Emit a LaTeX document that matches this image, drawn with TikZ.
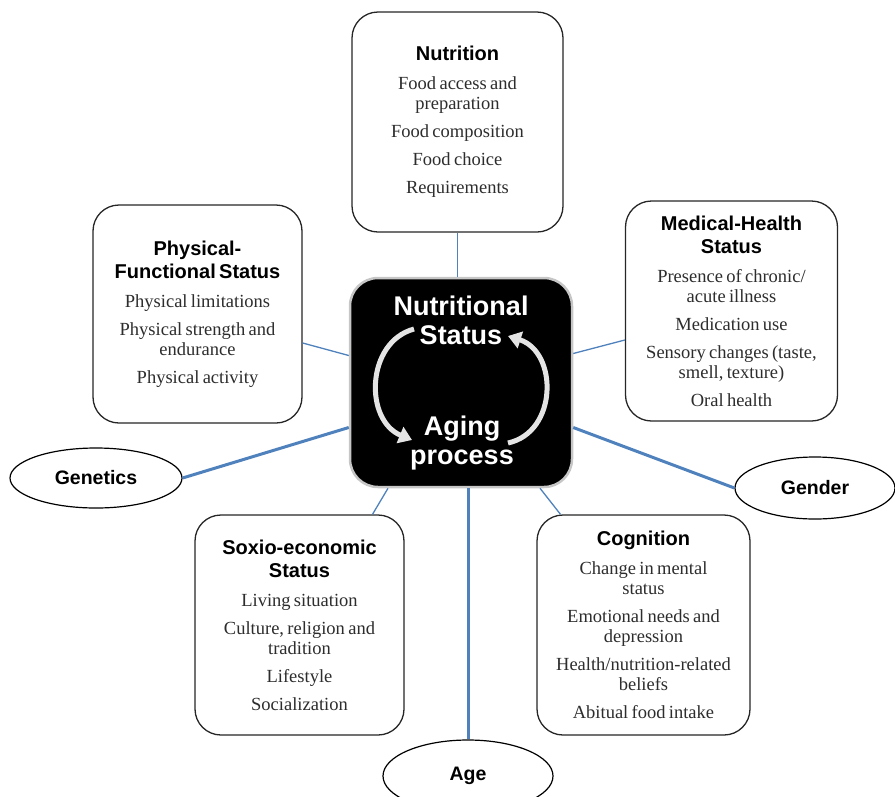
\documentclass[tikz,border=0pt]{standalone}
\usepackage{fontspec}
\setmainfont{Liberation Serif}
\newfontfamily\headfont{Liberation Sans}
\usetikzlibrary{arrows.meta,shapes.geometric}
\definecolor{linkblue}{RGB}{79,129,189}
\definecolor{bodytext}{RGB}{45,45,45}
\definecolor{cyclegray}{RGB}{228,228,228}
\newcommand\hdtxt{\headfont\bfseries\fontsize{20}{23}\selectfont\color{black}}
\newcommand\bdtxt{\rmfamily\mdseries\fontsize{18.5}{20}\selectfont\color{bodytext}}
\newcommand\itemgap{\\[8pt]}

\begin{document}
\begin{tikzpicture}[
  x=1pt, y=-1pt,
  catbox/.style={draw=black!85, line width=1.3pt, rounded corners=26pt, fill=white,
                 align=center, inner xsep=7pt, inner ysep=0pt},
  core/.style={draw=gray!45, line width=2.5pt, fill=black, rounded corners=28pt,
               minimum width=222pt, minimum height=209pt},
  coretxt/.style={text=white, align=center,
                  font=\headfont\bfseries\fontsize{27}{29}\selectfont},
  factor/.style={ellipse, draw=black, line width=1.2pt, fill=white, inner sep=0pt,
                 font=\headfont\bfseries\fontsize{19.5}{22}\selectfont},
  link/.style={draw=linkblue, line width=1.3pt},
  biglink/.style={draw=linkblue, line width=3pt},
  cycle/.style={draw=cyclegray, line width=5pt, -{Triangle[width=17pt,length=13pt]}},
]
\useasboundingbox (0,0) rectangle (895,796);
\clip (0,0) rectangle (895,796);

% central box
\node[core] (core) at (461,382.5) {};
\node[coretxt] (nstat) at (461,320) {Nutritional\\Status};
\node[coretxt] (aging) at (462,443) {Aging\\process};
\coordinate (la1) at (414,329);
\coordinate (la2) at (412,440);
\coordinate (ra1) at (508,443);
\coordinate (ra2) at (508,336);
\draw[cycle] (la1) .. controls (366,342) and (364,420) .. (la2);
\draw[cycle] (ra1) .. controls (558,432) and (558,352) .. (ra2);

% surrounding factors
\node[catbox, minimum width=211pt, minimum height=220pt, text width=197pt] (nut) at (457.5,122)
  {{\hdtxt Nutrition\par}\vspace{9pt}\bdtxt Food access and\\preparation\itemgap
   Food composition\itemgap Food choice\itemgap Requirements\par};
\node[catbox, minimum width=209pt, minimum height=218pt, text width=195pt] (phys) at (197.5,314)
  {{\hdtxt Physical-\\Functional Status\par}\vspace{9pt}\bdtxt Physical limitations\itemgap
   Physical strength and\\endurance\itemgap Physical activity\par};
\node[catbox, minimum width=212pt, minimum height=220pt, text width=198pt] (med) at (731.5,311)
  {{\hdtxt Medical-Health\\Status\par}\vspace{9pt}\bdtxt Presence of chronic/\\acute illness\itemgap
   Medication use\itemgap Sensory changes (taste,\\smell, texture)\itemgap Oral health\par};
\node[catbox, minimum width=209pt, minimum height=220pt, text width=195pt] (soc) at (299.5,625)
  {{\hdtxt Soxio-economic\\Status\par}\vspace{9pt}\bdtxt Living situation\itemgap
   Culture, religion and\\tradition\itemgap Lifestyle\itemgap Socialization\par};
\node[catbox, minimum width=213pt, minimum height=220pt, text width=199pt] (cog) at (643.5,625)
  {{\hdtxt Cognition\par}\vspace{9pt}\bdtxt Change in mental\\status\itemgap
   Emotional needs and\\depression\itemgap Health/nutrition-related\\beliefs\itemgap
   Abitual food intake\par};

\node[factor, minimum width=172pt, minimum height=60pt] (gen) at (96,478) {Genetics};
\node[factor, minimum width=160pt, minimum height=62pt] (gend) at (815,488) {Gender};
\node[factor, minimum width=170pt, minimum height=72pt] (age) at (468,776) {Age};

% connectors
\draw[link] (nut.south) -- (nut.south |- core.north);
\draw[link] ([yshift=-29pt]phys.east) -- ([yshift=27pt]core.west);
\draw[link] ([yshift=-29pt]med.west) -- ([yshift=29pt]core.east);
\draw[link] ([xshift=73pt]soc.north) -- ([xshift=-73pt]core.south);
\draw[link] ([xshift=-83pt]cog.north) -- ([xshift=79pt]core.south);
\draw[biglink] (gen.east) -- ([yshift=-45pt]core.west);
\draw[biglink] ([yshift=-45pt]core.east) -- (gend.west);
\draw[biglink] (age.north |- core.south) -- (age.north);
\end{tikzpicture}
\end{document}
